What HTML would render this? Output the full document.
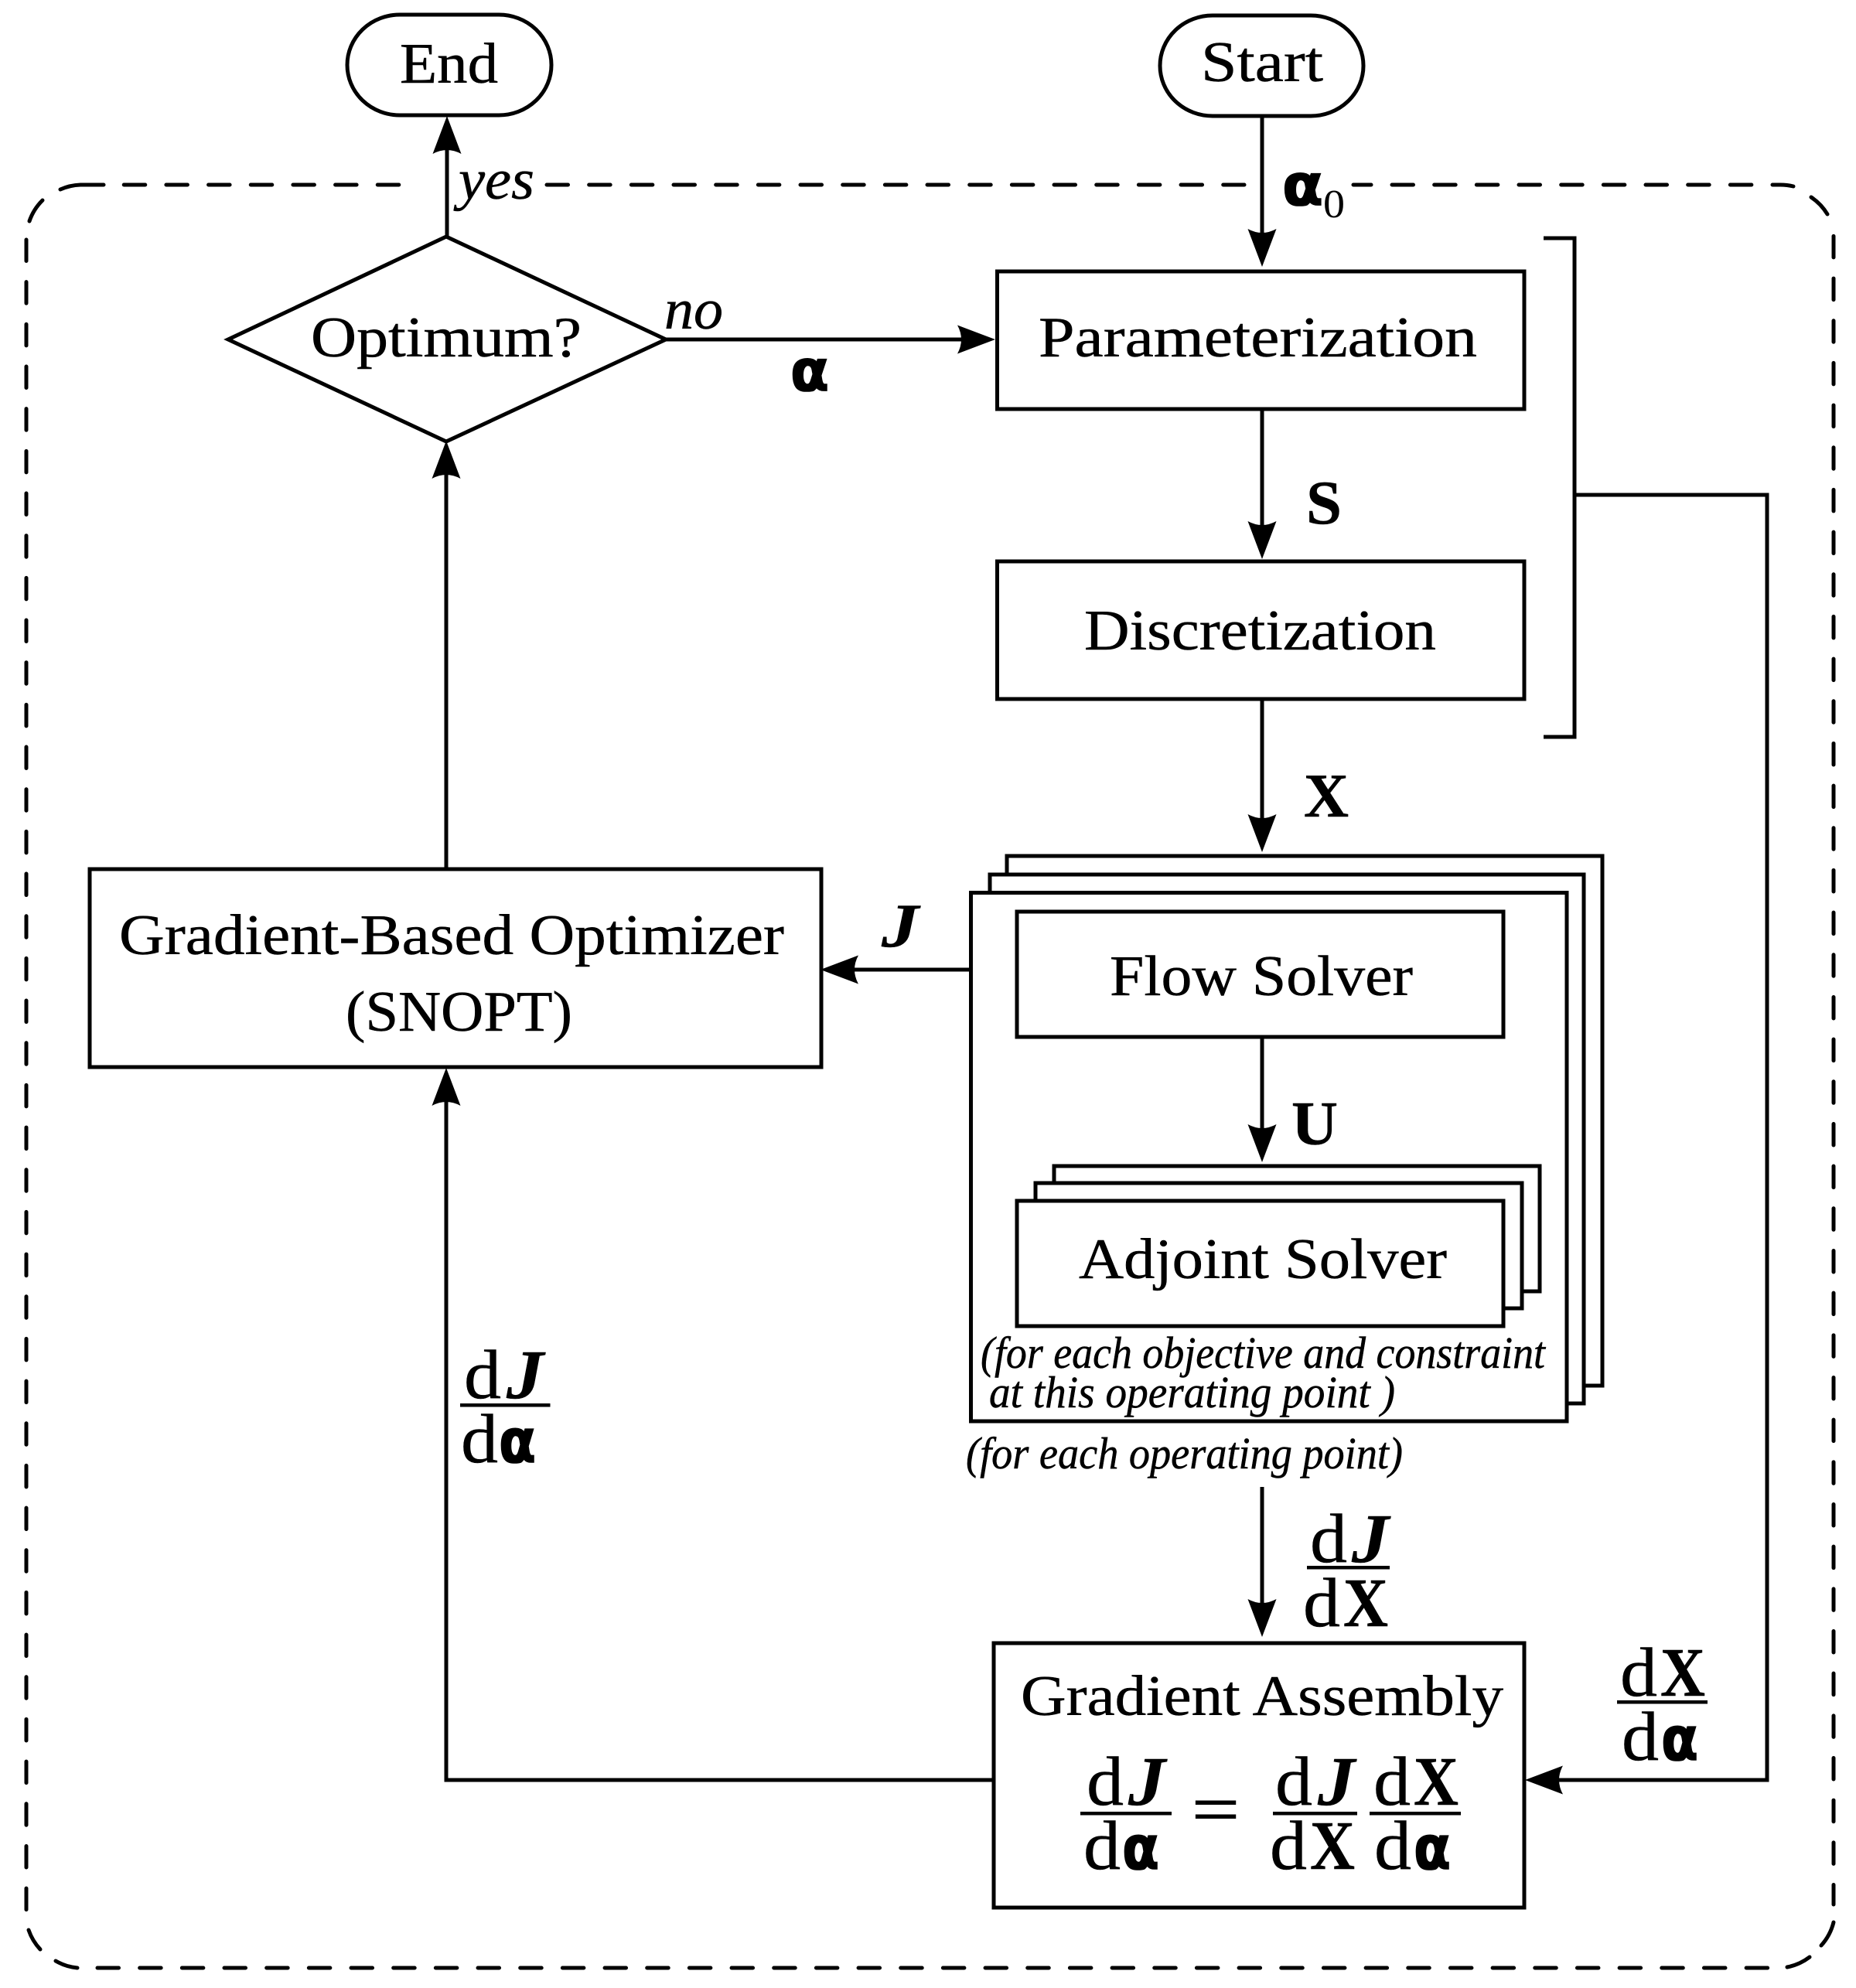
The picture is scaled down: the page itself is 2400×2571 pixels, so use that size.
<!DOCTYPE html>
<html><head><meta charset="utf-8"><style>
html,body{margin:0;padding:0;background:#fff}
svg{display:block}
text{font-family:"Liberation Serif",serif;font-size:74px;fill:#000;stroke:#000;stroke-width:.5px}
.i{font-style:italic}
.b{font-weight:bold}
.bi{font-weight:bold;font-style:italic}
.a{font-family:"DejaVu Sans",sans-serif;font-weight:bold;stroke-width:1.6px}
.f{font-size:90px}
.fa{font-size:78px}
.s{font-size:58px;font-style:italic}
.ln{fill:none;stroke:#000;stroke-width:5}
.bx{fill:#fff;stroke:#000;stroke-width:5}
.d{fill:none;stroke:#000;stroke-width:5;stroke-linecap:round;stroke-dasharray:27.5 27.17}
.c{fill:none;stroke:#000;stroke-width:5;stroke-linecap:round}
</style></head><body>
<svg xmlns="http://www.w3.org/2000/svg" width="2400" height="2571" viewBox="0 0 2400 2571">
<rect width="2400" height="2571" fill="#fff"/>
<!-- dashed frame -->
<path class="d" d="M160.25 239H517"/><path class="d" d="M707 239H1609"/><path class="c" d="M1750 239H1773"/><path class="d" d="M1800 239H2266"/>
<path class="c" d="M78 245A70 70 0 0 1 104 239H134"/><path class="c" d="M38 286A70 70 0 0 1 55 259"/>
<path class="c" d="M2292 239H2301A70 70 0 0 1 2319 241"/><path class="c" d="M2342 255A70 70 0 0 1 2363 277"/>
<path class="d" d="M34 310V2471"/><path class="d" d="M2371 305.4V2463"/><path class="d" d="M126 2545H2287"/>
<path class="c" d="M37 2496A70 70 0 0 0 52 2521"/><path class="c" d="M72 2536A70 70 0 0 0 100 2545"/>
<path class="c" d="M2371 2486A70 70 0 0 1 2355 2516"/><path class="c" d="M2340 2531A70 70 0 0 1 2311 2544"/>
<!-- terminals -->
<rect class="bx" x="449" y="19" width="264" height="130" rx="68" ry="65"/>
<rect class="bx" x="1500" y="20" width="263" height="130" rx="68" ry="65"/>
<!-- diamond -->
<polygon class="bx" points="577,306 861,439 577,571 295,439"/>
<!-- boxes -->
<rect class="bx" x="1289.5" y="351" width="681.5" height="178"/>
<rect class="bx" x="1289.5" y="726" width="681.5" height="178"/>
<rect class="bx" x="116" y="1124" width="946" height="256"/>
<rect class="bx" x="1302" y="1107" width="770" height="685"/>
<rect class="bx" x="1280" y="1131" width="768" height="684"/>
<rect class="bx" x="1255.5" y="1154.5" width="770.5" height="683.5"/>
<rect class="bx" x="1315" y="1179" width="629" height="162"/>
<rect class="bx" x="1363" y="1508" width="628" height="162"/>
<rect class="bx" x="1339" y="1530" width="629" height="162"/>
<rect class="bx" x="1315" y="1553" width="629" height="162"/>
<rect class="bx" x="1285" y="2125" width="686" height="342"/>
<!-- connectors -->
<path class="ln" d="M578 306V190"/>
<path class="ln" d="M577 1124V610"/>
<path class="ln" d="M861 439H1245"/>
<path class="ln" d="M1632 150V305"/>
<path class="ln" d="M1632 529V685"/>
<path class="ln" d="M1632 904V1065"/>
<path class="ln" d="M1632 1341V1465"/>
<path class="ln" d="M1632 1923V2080"/>
<path class="ln" d="M1255 1254H1100"/>
<path class="ln" d="M1285 2302H577V1420"/>
<path class="ln" d="M1996 308H2036V953H1996"/>
<path class="ln" d="M2036 640H2285V2302H2015"/>
<!-- arrowheads -->
<g fill="#000" stroke="none">
<path d="M578 150L559.500 199Q578 189 596.500 199Z"/>
<path d="M577 570L558.500 619Q577 609 595.500 619Z"/>
<path d="M577 1381L558.500 1430Q577 1420 595.500 1430Z"/>
<path d="M1287 439L1238 420.500Q1248 439 1238 457.500Z"/>
<path d="M1632 345L1613.500 296Q1632 306 1650.500 296Z"/>
<path d="M1632 723L1613.500 674Q1632 684 1650.500 674Z"/>
<path d="M1632 1102L1613.500 1053Q1632 1063 1650.500 1053Z"/>
<path d="M1632 1503L1613.500 1454Q1632 1464 1650.500 1454Z"/>
<path d="M1632 2117L1613.500 2068Q1632 2078 1650.500 2068Z"/>
<path d="M1061 1254L1110 1235.500Q1100 1254 1110 1272.500Z"/>
<path d="M1972 2302L2021 2283.500Q2011 2302 2021 2320.500Z"/>
</g>
<!-- labels -->
<text x="517" y="107" textLength="127" lengthAdjust="spacingAndGlyphs">End</text>
<text x="1553" y="105" textLength="158" lengthAdjust="spacingAndGlyphs">Start</text>
<text x="402" y="461" textLength="350" lengthAdjust="spacingAndGlyphs">Optimum?</text>
<text class="i" x="593" y="257" textLength="98" lengthAdjust="spacingAndGlyphs">yes</text>
<text class="i" x="859" y="425" textLength="76" lengthAdjust="spacingAndGlyphs">no</text>
<text class="a" x="1022" y="505" textLength="50" lengthAdjust="spacingAndGlyphs">α</text>
<text class="a" x="1658" y="265" textLength="53" lengthAdjust="spacingAndGlyphs">α</text>
<text x="1711" y="281" style="font-size:52px;stroke-width:0" textLength="28" lengthAdjust="spacingAndGlyphs">0</text>
<text x="1343" y="461" textLength="567" lengthAdjust="spacingAndGlyphs">Parameterization</text>
<text x="1402" y="840" textLength="455" lengthAdjust="spacingAndGlyphs">Discretization</text>
<text class="b" x="1689" y="677" style="font-size:80px" textLength="46" lengthAdjust="spacingAndGlyphs">S</text>
<text class="b" x="1686" y="1056" style="font-size:80px" textLength="58" lengthAdjust="spacingAndGlyphs">X</text>
<text class="b" x="1670" y="1480" style="font-size:80px" textLength="60" lengthAdjust="spacingAndGlyphs">U</text>
<text class="bi" x="1140" y="1224" style="font-size:80px" textLength="48" lengthAdjust="spacingAndGlyphs">J</text>
<text x="154" y="1234" textLength="860" lengthAdjust="spacingAndGlyphs">Gradient-Based Optimizer</text>
<text x="447" y="1333" textLength="293" lengthAdjust="spacingAndGlyphs">(SNOPT)</text>
<text x="1435" y="1287" textLength="392" lengthAdjust="spacingAndGlyphs">Flow Solver</text>
<text x="1395" y="1653" textLength="476" lengthAdjust="spacingAndGlyphs">Adjoint Solver</text>
<text class="s" x="1268" y="1769" textLength="730" lengthAdjust="spacingAndGlyphs">(for each objective and constraint</text>
<text class="s" x="1279" y="1820" textLength="525" lengthAdjust="spacingAndGlyphs">at this operating point )</text>
<text class="s" x="1249" y="1899" textLength="565" lengthAdjust="spacingAndGlyphs">(for each operating point)</text>
<text x="1320" y="2218" textLength="624" lengthAdjust="spacingAndGlyphs">Gradient Assembly</text>
<!-- fraction: dJ/da left -->
<text class="f" x="600" y="1808" textLength="48" lengthAdjust="spacingAndGlyphs">d</text><text class="f bi" x="655" y="1808" textLength="48" lengthAdjust="spacingAndGlyphs">J</text>
<rect x="595" y="1815" width="116.500" height="4.500"/>
<text class="f" x="596" y="1891" textLength="48" lengthAdjust="spacingAndGlyphs">d</text><text class="fa a" x="645" y="1891" textLength="48" lengthAdjust="spacingAndGlyphs">α</text>
<!-- fraction: dJ/dX top -->
<text class="f" x="1694" y="2020" textLength="48" lengthAdjust="spacingAndGlyphs">d</text><text class="f bi" x="1748" y="2020" textLength="48" lengthAdjust="spacingAndGlyphs">J</text>
<rect x="1690" y="2025" width="107" height="4.500"/>
<text class="f" x="1685" y="2103" textLength="48" lengthAdjust="spacingAndGlyphs">d</text><text class="f b" x="1737" y="2103" textLength="58" lengthAdjust="spacingAndGlyphs">X</text>
<!-- fraction: dX/da right -->
<text class="f" x="2095" y="2193" textLength="48" lengthAdjust="spacingAndGlyphs">d</text><text class="f b" x="2147" y="2193" textLength="58" lengthAdjust="spacingAndGlyphs">X</text>
<rect x="2091" y="2199" width="117" height="4.500"/>
<text class="f" x="2097" y="2276" textLength="48" lengthAdjust="spacingAndGlyphs">d</text><text class="fa a" x="2148" y="2276" textLength="48" lengthAdjust="spacingAndGlyphs">α</text>
<!-- equation -->
<text class="f" x="1405" y="2334" textLength="48" lengthAdjust="spacingAndGlyphs">d</text><text class="f bi" x="1459" y="2334" textLength="48" lengthAdjust="spacingAndGlyphs">J</text>
<rect x="1397" y="2343" width="118" height="4.500"/>
<text class="f" x="1401" y="2417" textLength="48" lengthAdjust="spacingAndGlyphs">d</text><text class="fa a" x="1451" y="2417" textLength="48" lengthAdjust="spacingAndGlyphs">α</text>
<text class="f" x="1541" y="2370" style="stroke-width:1px" textLength="62" lengthAdjust="spacingAndGlyphs">=</text>
<text class="f" x="1649" y="2334" textLength="48" lengthAdjust="spacingAndGlyphs">d</text><text class="f bi" x="1704" y="2334" textLength="48" lengthAdjust="spacingAndGlyphs">J</text>
<rect x="1646" y="2343" width="109" height="4.500"/>
<text class="f" x="1642" y="2417" textLength="48" lengthAdjust="spacingAndGlyphs">d</text><text class="f b" x="1694" y="2417" textLength="58" lengthAdjust="spacingAndGlyphs">X</text>
<text class="f" x="1776" y="2334" textLength="48" lengthAdjust="spacingAndGlyphs">d</text><text class="f b" x="1828" y="2334" textLength="58" lengthAdjust="spacingAndGlyphs">X</text>
<rect x="1771" y="2343" width="118" height="4.500"/>
<text class="f" x="1777" y="2417" textLength="48" lengthAdjust="spacingAndGlyphs">d</text><text class="fa a" x="1828" y="2417" textLength="48" lengthAdjust="spacingAndGlyphs">α</text>
</svg>
</body></html>
